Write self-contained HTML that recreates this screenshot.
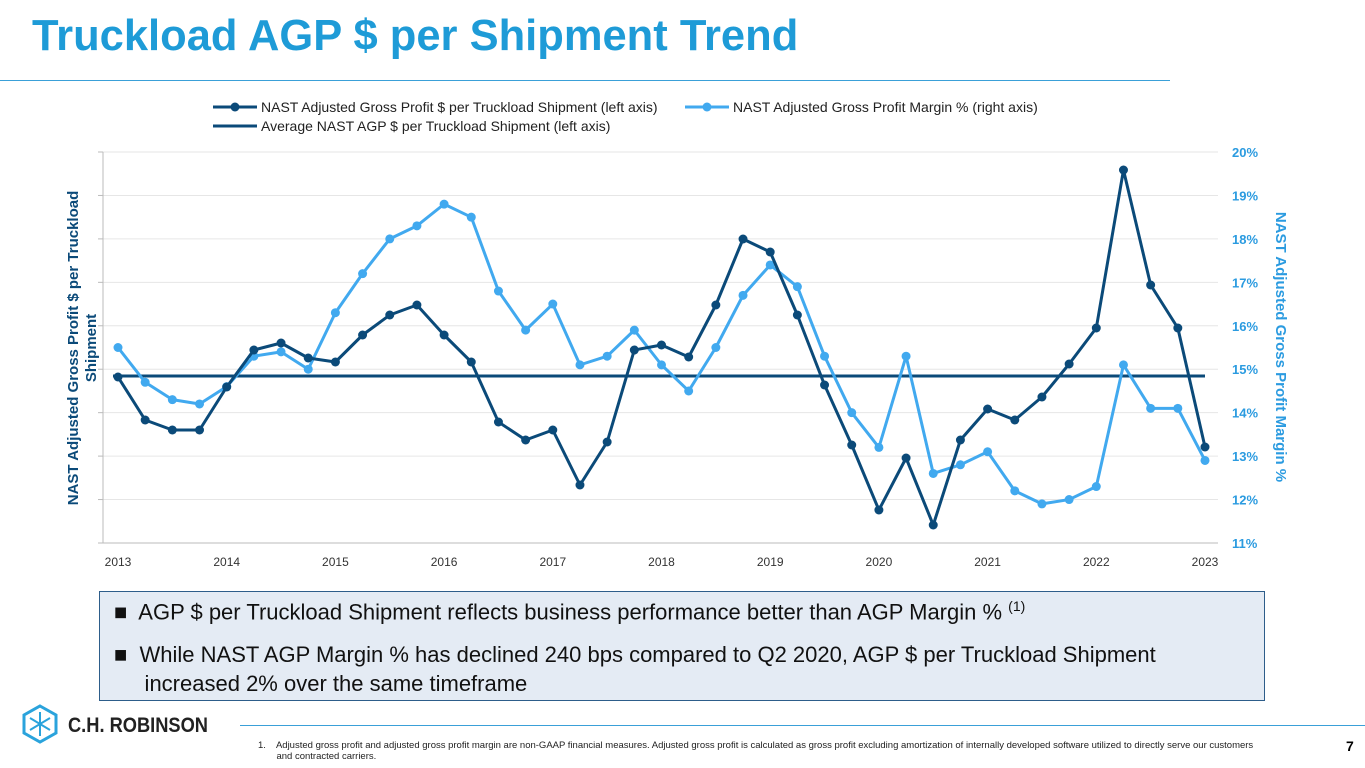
<!DOCTYPE html>
<html><head><meta charset="utf-8">
<style>
body{margin:0;width:1365px;height:768px;background:#fff;font-family:"Liberation Sans",Arial,sans-serif;position:relative;overflow:hidden}
.title{position:absolute;left:32px;top:12px;font-size:43.5px;font-weight:bold;color:#1e9bd7}
.box{position:absolute;left:99px;top:591px;width:1166px;height:110px;background:#e4ebf4;border:1.5px solid #2d5d8a;box-sizing:border-box;font-size:22px;color:#111}
.foot{position:absolute;left:258px;top:740px;font-size:9.5px;color:#222;width:1060px;line-height:11px}
</style></head><body>
<div class="title">Truckload AGP $ per Shipment Trend</div>
<div style="position:absolute;left:0;top:80px;width:1170px;height:1px;background:#3aa0d8"></div>
<svg id="chart" width="1365" height="590" style="position:absolute;left:0;top:0"></svg>
<div class="box">
<div style="position:absolute;left:14px;top:6px">■&nbsp; AGP $ per Truckload Shipment reflects business performance better than AGP Margin % <sup style="font-size:14px">(1)</sup></div>
<div style="position:absolute;left:14px;top:48px;line-height:29px">■&nbsp; While NAST AGP Margin % has declined 240 bps compared to Q2 2020, AGP $ per Truckload Shipment<br>&nbsp;&nbsp;&nbsp;&nbsp; increased 2% over the same timeframe</div>
</div>
<svg width="220" height="40" style="position:absolute;left:22px;top:704px">
<polygon points="18,2 34,11 34,29 18,38 2,29 2,11" fill="none" stroke="#2aa3dc" stroke-width="3"/>
<path d="M18 8V32M8 14L28 26M28 14L8 26" stroke="#2aa3dc" stroke-width="2"/>
<text x="46" y="28" font-size="21" font-weight="bold" fill="#222" font-family="Liberation Sans,sans-serif" textLength="140" lengthAdjust="spacingAndGlyphs">C.H. ROBINSON</text>
</svg>
<div style="position:absolute;left:240px;top:725px;width:1125px;height:1px;background:#3aa0d8"></div>
<div class="foot">1.&nbsp;&nbsp;&nbsp; Adjusted gross profit and adjusted gross profit margin are non-GAAP financial measures. Adjusted gross profit is calculated as gross profit excluding amortization of internally developed software utilized to directly serve our customers<br>&nbsp;&nbsp;&nbsp;&nbsp;&nbsp;&nbsp; and contracted carriers.</div>
<div style="position:absolute;left:1346px;top:738px;font-size:14px;font-weight:bold">7</div>
<script>
const yearLabels=["2013","2014","2015","2016","2017","2018","2019","2020","2021","2022","2023"];
const rightTicks=[11,12,13,14,15,16,17,18,19,20];
const agpPerShipment=[166,123,113,113,156,193,200,185,181,208,228,238,208,181,121,103,113,58,101,193,198,186,238,304,291,228,158,98,33,85,18,103,134,123,146,179,215,373,258,215,96];
const marginPct=[15.5,14.7,14.3,14.2,14.6,15.3,15.4,15.0,16.3,17.2,18.0,18.3,18.8,18.5,16.8,15.9,16.5,15.1,15.3,15.9,15.1,14.5,15.5,16.7,17.4,16.9,15.3,14.0,13.2,15.3,12.6,12.8,13.1,12.2,11.9,12.0,12.3,15.1,14.1,14.1,12.9];
const avgAgp=[167];
const svg=document.getElementById('chart');const NS='http://www.w3.org/2000/svg';
const X0=118,X1=1205,Y0=543,Y1=152;
const x=i=>X0+(X1-X0)*i/(marginPct.length-1);
const yR=v=>Y0-(v-11)/(20-11)*(Y0-Y1);
const yL=v=>Y0-v/391*(Y0-Y1);
function mk(t,a,p){const e=document.createElementNS(NS,t);for(const k in a)e.setAttribute(k,a[k]);(p||svg).appendChild(e);return e;}
rightTicks.forEach(v=>{
 const g=mk('line',{x1:103,x2:1218,y1:yR(v),y2:yR(v),stroke:v==11?'#bbb':'#e6e6e6','stroke-width':1});
 
 
 const tk=mk('line',{x1:98,x2:103,y1:yR(v),y2:yR(v),stroke:'#bbb'});
 
 
 const t=mk('text',{x:1232,y:yR(v)+5,'font-size':13,'font-weight':'bold',fill:'#2b9be0'});t.textContent=v+'%';
 
 
});
mk('line',{x1:103,x2:103,y1:Y1,y2:Y0,stroke:'#bbb'});
yearLabels.forEach((l,i)=>{const t=mk('text',{x:x(i*4),y:566,'font-size':12,fill:'#333','text-anchor':'middle'});t.textContent=l;
 
 });
const avg=mk('line',{x1:113,x2:X1,y1:yL(avgAgp[0]),y2:yL(avgAgp[0]),stroke:'#0b4a79','stroke-width':3});


function series(vals,yf,col,name){
 const p=mk('polyline',{points:vals.map((v,i)=>x(i)+','+yf(v)).join(' '),fill:'none',stroke:col,'stroke-width':3,'stroke-linejoin':'round'});
 
 
 vals.forEach((v,i)=>{const c=mk('circle',{cx:x(i),cy:yf(v),r:4.5,fill:col});
 
 });
}
series(marginPct,yR,'#41a9ef','margin');
series(agpPerShipment,yL,'#0b4a79','agp');
function leg(x0,y,col,txt,dot,name){const l=mk('line',{x1:x0,x2:x0+44,y1:y,y2:y,stroke:col,'stroke-width':3});
 
 
 if(dot)mk('circle',{cx:x0+22,cy:y,r:4.5,fill:col});
 const t=mk('text',{x:x0+48,y:y+5,'font-size':14,fill:'#222'});t.textContent=txt;}
leg(213,107,'#0b4a79','NAST Adjusted Gross Profit $ per Truckload Shipment (left axis)',true,'legend-agp');
leg(685,107,'#41a9ef','NAST Adjusted Gross Profit Margin % (right axis)',true,'legend-margin');
leg(213,126,'#0b4a79','Average NAST AGP $ per Truckload Shipment (left axis)',false,'legend-average');
const lt=mk('text',{transform:'translate(78,348) rotate(-90)','text-anchor':'middle','font-size':15,'font-weight':'bold',fill:'#0b4a79'});


mk('tspan',{x:0,dy:0},lt).textContent='NAST Adjusted Gross Profit $ per Truckload';
mk('tspan',{x:0,dy:18},lt).textContent='Shipment';
const rt=mk('text',{transform:'translate(1276,347) rotate(90)','text-anchor':'middle','font-size':15,'font-weight':'bold',fill:'#2b9be0'});rt.textContent='NAST Adjusted Gross Profit Margin %';


</script>
</body></html>
